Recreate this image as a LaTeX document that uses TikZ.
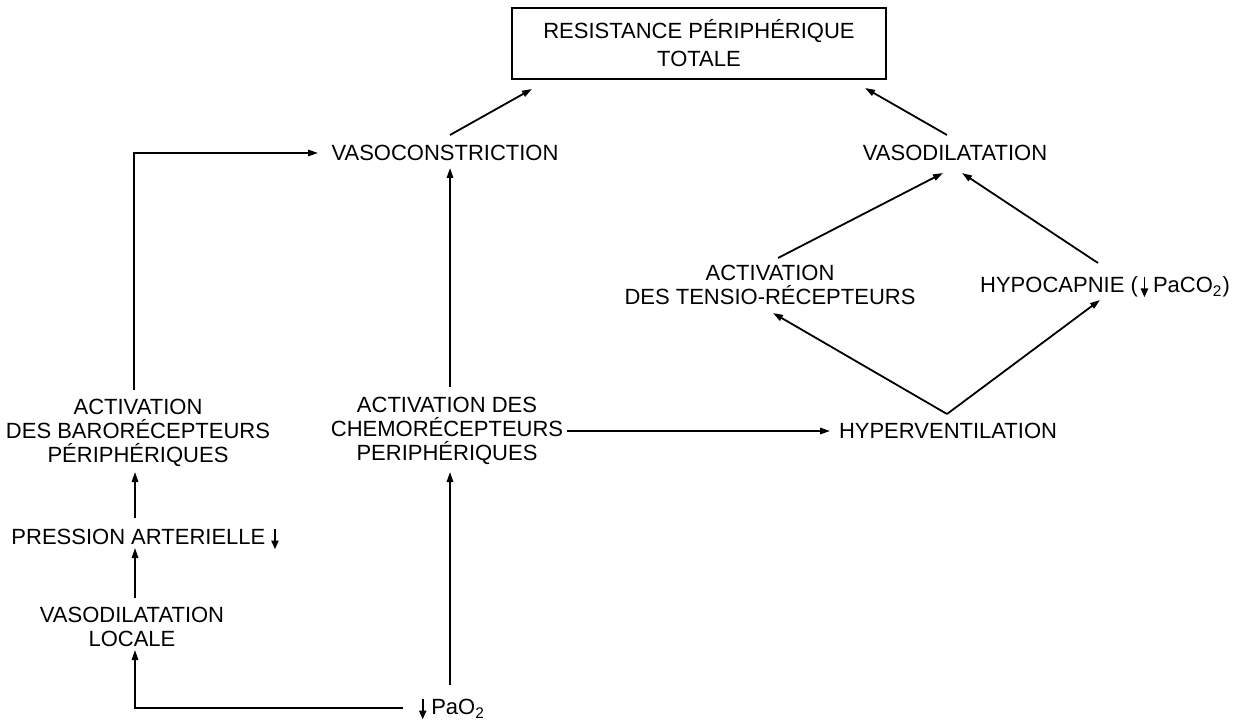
\documentclass[tikz,border=0pt]{standalone}
\usepackage{fontspec}
\setmainfont{Liberation Sans}
\usetikzlibrary{arrows.meta,calc}
\newcommand\dnarr{\tikz[baseline=0pt]\draw[line width=0.9pt,-{Triangle[length=4.4pt,width=3.6pt]}] (0pt,7.9pt)--(0pt,-2.2pt);}
\begin{document}
\begin{tikzpicture}[x=0.5pt,y=-0.5pt,
  every node/.style={font=\fontsize{11}{12}\selectfont, inner sep=0pt, align=center},
  one/.style={text height=7.9pt, text depth=0pt},
  boxnode/.style={draw, line width=0.9pt, minimum width=187pt, minimum height=35.5pt,
    font=\fontsize{11}{14}\selectfont},
  con/.style={line width=0.9pt, -{Triangle[length=5pt,width=3.2pt]}},
  ln/.style={line width=0.9pt}]
\useasboundingbox (0,0) rectangle (1240,721);

% nodes
\node[boxnode] (box) at (699,43.5) {RESISTANCE PÉRIPHÉRIQUE\\TOTALE};
\node[one] (vc) at (445,153) {VASOCONSTRICTION};
\node[one] (vd) at (955,153) {VASODILATATION};
\node (tens) at (770,284.5) {ACTIVATION\\DES TENSIO-RÉCEPTEURS};
\node[one] (hypo) at (1105,285) {HYPOCAPNIE (\kern1.5pt\dnarr\kern2.5pt PaCO\textsubscript{2})};
\node[one] (hyper) at (948,431) {HYPERVENTILATION};
\node (chemo) at (447,431) {ACTIVATION DES\\CHEMORÉCEPTEURS\\PERIPHÉRIQUES};
\node (baro) at (138,433) {ACTIVATION\\DES BARORÉCEPTEURS\\PÉRIPHÉRIQUES};
\node[one] (pa) at (145,537) {PRESSION ARTERIELLE\kern3pt\dnarr};
\node (vdl) at (132,626.5) {VASODILATATION\\LOCALE};
\node[one] (pao) at (452,707) {\dnarr\kern2.5pt PaO\textsubscript{2}};

% connectors
\draw[con] ($(vc)+(5,-18)$) -- ($(box)+(-167,45.5)$);
\draw[con] ($(vd)+(-8,-18)$) -- ($(box)+(166,44.5)$);
\draw[con] ($(tens)+(8,-26.5)$) -- ($(vd)+(-12,20)$);
\draw[con] ($(hypo)+(-7,-22)$) -- ($(vd)+(7,20)$);
\draw[con] ($(hyper)+(-1,-17)$) -- ($(tens)+(3,28.5)$);
\draw[con] ($(hyper)+(-1,-17)$) -- ($(hypo)+(-5,15)$);
\draw[con] ($(chemo)+(120,0)$) -- ($(hyper)+(-118,0)$);
\draw[con] ($(chemo)+(3,-44)$) -- ($(vc)+(5,15)$);
\draw[con] ($(pao)+(-2,-22)$) -- ($(chemo)+(3,41)$);
\draw[con] ($(pao)+(-49,1)$) -| ($(vdl)+(3,23.5)$);
\draw[con] ($(vdl)+(3,-28.5)$) -- ($(pa)+(-10,11)$);
\draw[con] ($(pa)+(-10,-19)$) -- ($(baro)+(-3,39)$);
\draw[con] ($(baro)+(-4,-43)$) |- ($(vc)+(-127,0)$);
\end{tikzpicture}
\end{document}
